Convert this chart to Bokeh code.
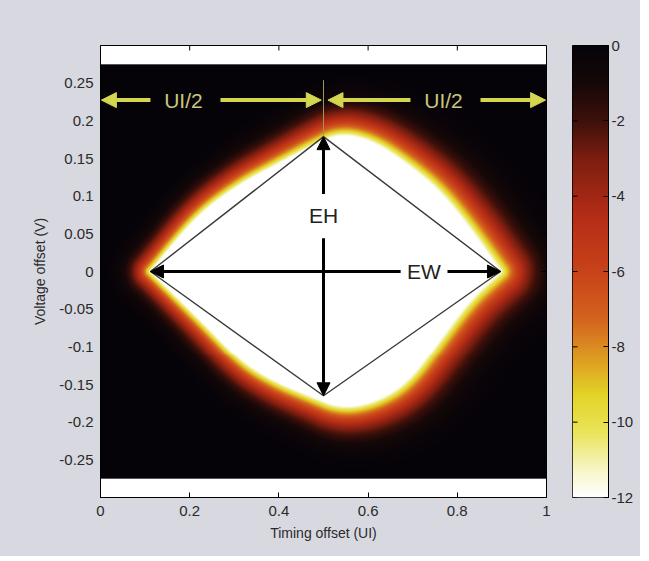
import numpy as np
from bokeh.plotting import figure
from bokeh.layouts import row
from bokeh.models import (LinearColorMapper, FixedTicker, Range1d, Arrow, NormalHead, Label)
from bokeh.embed import file_html
from bokeh.resources import INLINE

# ---------------- data ----------------
x_ticks = [0, 0.2, 0.4, 0.6, 0.8, 1]
x_tick_labels = ["0", "0.2", "0.4", "0.6", "0.8", "1"]
y_ticks = [-0.25, -0.2, -0.15, -0.1, -0.05, 0, 0.05, 0.1, 0.15, 0.2, 0.25]
y_tick_labels = ["-0.25", "-0.2", "-0.15", "-0.1", "-0.05", "0",
                 "0.05", "0.1", "0.15", "0.2", "0.25"]
cbar_ticks = [0, -2, -4, -6, -8, -10, -12]
cbar_tick_labels = ["0", "-2", "-4", "-6", "-8", "-10", "-12"]

# eye contour (log10 BER = -12 boundary)
eye_x = [0.112, 0.217, 0.314, 0.388, 0.471, 0.538, 0.612, 0.688, 0.762, 0.830, 0.897]
eye_upper = [0.000, 0.075, 0.116, 0.139, 0.165, 0.183, 0.172, 0.142, 0.106, 0.056, 0.000]
eye_lower = [0.000, -0.060, -0.119, -0.146, -0.166, -0.182, -0.175, -0.149, -0.090, -0.036, 0.000]

# eye opening markers
ew_left, ew_right = 0.112, 0.897
eh_x, eh_top, eh_bottom = 0.5, 0.179, -0.165
ui_left, ui_mid, ui_right = 0.0, 0.5, 1.0
ui_y = 0.2275

# image extent and colour scale
img_x0, img_x1 = 0.0, 1.0
img_y0, img_y1 = -0.275, 0.275
ber_low, ber_high = -12, 0

# ---------------- build image ----------------
SX, SY = 446.0, 756.0  # px per data unit
nx, ny = 446, 416
gx = np.linspace(img_x0, img_x1, nx)
gy = np.linspace(img_y0, img_y1, ny)
X, Y = np.meshgrid(gx, gy)


def chaikin(xs, ys, n=3):
    pts = np.stack([xs, ys], axis=1)
    for _ in range(n):
        q1 = 0.75 * pts[:-1] + 0.25 * pts[1:]
        q2 = 0.25 * pts[:-1] + 0.75 * pts[1:]
        mid = np.empty((2 * len(q1), 2))
        mid[0::2] = q1
        mid[1::2] = q2
        pts = np.vstack([pts[:1], mid[1:-1], pts[-1:]])
    return pts[:, 0], pts[:, 1]


ux, uy = chaikin(np.array(eye_x) * SX, np.array(eye_upper) * SY)
lx, ly = chaikin(np.array(eye_x) * SX, np.array(eye_lower) * SY)
poly_x = np.concatenate([ux, lx[::-1][1:]])
poly_y = np.concatenate([uy, ly[::-1][1:]])
A = np.stack([poly_x[:-1], poly_y[:-1]], axis=1)
B = np.stack([poly_x[1:], poly_y[1:]], axis=1)
PX = X.ravel() * SX
PY = Y.ravel() * SY
dmin = np.full(PX.shape[0], np.inf)
for a, b in zip(A, B):
    abx, aby = b - a
    L2 = abx * abx + aby * aby
    if L2 == 0:
        continue
    t = np.clip(((PX - a[0]) * abx + (PY - a[1]) * aby) / L2, 0, 1)
    d = np.hypot(PX - (a[0] + t * abx), PY - (a[1] + t * aby))
    dmin = np.minimum(dmin, d)
dmin = dmin.reshape(X.shape)
Xp = X * SX
Yp = Y * SY
inside = (Xp >= ux[0]) & (Xp <= ux[-1]) & (Yp <= np.interp(Xp, ux, uy)) & (Yp >= np.interp(Xp, lx, ly))
W = 58 + 42 * np.clip((X - 0.11) / 0.79, 0, 1)
tt = np.clip(dmin / W, 0, 1)
val = ber_low * (1 - tt) ** 4
val[inside] = ber_low
val = np.clip(val, ber_low, ber_high)

# ---------------- palette ----------------
anchors = [(-12, (255, 255, 255)), (-11.2, (246, 244, 190)), (-10.3, (234, 228, 90)),
           (-9.3, (226, 212, 40)), (-8.4, (222, 160, 34)), (-7.3, (212, 100, 30)),
           (-6, (200, 66, 26)), (-4.5, (180, 44, 22)), (-3, (124, 30, 16)),
           (-2, (62, 16, 10)), (-1, (22, 8, 8)), (0, (6, 3, 8))]
av = np.array([a[0] for a in anchors], dtype=float)
ac = np.array([a[1] for a in anchors], dtype=float)
lv = np.linspace(ber_low, ber_high, 256)
palette = []
for v in lv:
    r = np.interp(v, av, ac[:, 0]); g = np.interp(v, av, ac[:, 1]); b = np.interp(v, av, ac[:, 2])
    palette.append("#%02x%02x%02x" % (int(round(r)), int(round(g)), int(round(b))))
mapper = LinearColorMapper(palette=palette, low=ber_low, high=ber_high)

# ---------------- main figure ----------------
FONT = "Liberation Sans"
BG = "#d8d8e0"
TXT = "#2a2a2a"
p = figure(output_backend="svg", toolbar_location=None,
           frame_width=446, frame_height=452,
           min_border_left=100, min_border_top=45, min_border_bottom=59, min_border_right=8,
           x_range=Range1d(0, 1), y_range=Range1d(-0.3, 0.3))
p.border_fill_color = BG
p.background_fill_color = "white"
p.outline_line_color = "black"
p.grid.visible = False

p.image(image=[val], x=img_x0, y=img_y0, dw=img_x1 - img_x0, dh=img_y1 - img_y0,
        color_mapper=mapper)

for ax in (p.xaxis[0], p.yaxis[0]):
    ax.major_tick_in = 5
    ax.major_tick_out = 0
    ax.minor_tick_line_color = None
    ax.major_label_text_font = FONT
    ax.major_label_text_font_size = "15px"
    ax.major_label_text_color = TXT
    ax.axis_label_text_font = FONT
    ax.axis_label_text_font_size = "14px"
    ax.axis_label_text_font_style = "normal"
    ax.axis_label_text_color = TXT
    ax.axis_line_color = "black"
p.xaxis[0].ticker = FixedTicker(ticks=x_ticks)
p.xaxis[0].major_label_overrides = dict(zip(x_ticks, x_tick_labels))
p.yaxis[0].ticker = FixedTicker(ticks=y_ticks)
p.yaxis[0].major_label_overrides = dict(zip(y_ticks, y_tick_labels))
p.xaxis[0].axis_label = "Timing offset (UI)"
p.yaxis[0].axis_label = "Voltage offset (V)"
p.xaxis[0].major_label_standoff = 8
p.yaxis[0].major_label_standoff = 7
p.xaxis[0].axis_label_standoff = 6
p.yaxis[0].axis_label_standoff = 8

# box ticks on top and right edges
tick_dy = 5 / SY
tick_dx = 5 / SX
p.segment(x0=x_ticks, y0=[0.3] * len(x_ticks), x1=x_ticks, y1=[0.3 - tick_dy] * len(x_ticks),
          line_color="black", line_width=1)
p.segment(x0=[1] * len(y_ticks), y0=y_ticks, x1=[1 - tick_dx] * len(y_ticks), y1=y_ticks,
          line_color="black", line_width=1)

# diamond
p.line([ew_left, eh_x, ew_right, eh_x, ew_left], [0, eh_top, 0, eh_bottom, 0],
       line_color="#3a3a3a", line_width=1.4)

def arrow(x0, y0, x1, y1, color, lw, size):
    p.add_layout(Arrow(x_start=x0, y_start=y0, x_end=x1, y_end=y1,
                       line_color=color, line_width=lw,
                       end=NormalHead(size=size, fill_color=color, line_color=color)))

# EW
arrow(0.673, 0, ew_left, 0, "black", 3, 13)
arrow(0.778, 0, ew_right, 0, "black", 3, 13)
p.add_layout(Label(x=0.725, y=0, text="EW", text_align="center", text_baseline="middle",
                   text_font=FONT, text_font_size="21px", text_color="#222222"))
# EH
arrow(eh_x, 0.103, eh_x, eh_top, "black", 3, 13)
arrow(eh_x, 0.044, eh_x, eh_bottom, "black", 3, 13)
p.add_layout(Label(x=eh_x, y=0.074, text="EH", text_align="center", text_baseline="middle",
                   text_font=FONT, text_font_size="21px", text_color="#222222"))

# UI/2 markers
YEL = "#d3d64e"
p.line([ui_mid, ui_mid], [0.254, eh_top], line_color="#9a9a50", line_width=1)
arrow(0.112, ui_y, ui_left + 0.002, ui_y, YEL, 4, 15)
arrow(0.269, ui_y, ui_mid - 0.005, ui_y, YEL, 4, 15)
arrow(0.695, ui_y, ui_mid + 0.01, ui_y, YEL, 4, 15)
arrow(0.852, ui_y, ui_right - 0.002, ui_y, YEL, 4, 15)
for xc in (0.186, 0.769):
    p.add_layout(Label(x=xc, y=ui_y, text="UI/2", text_align="center", text_baseline="middle",
                       text_font=FONT, text_font_size="21px", text_color="#c6c67e"))

# ---------------- colour bar figure ----------------
cb_grad = np.linspace(ber_low, ber_high, 256).reshape(-1, 1)
q = figure(output_backend="svg", toolbar_location=None,
           frame_width=36, frame_height=452,
           min_border_left=18, min_border_right=32, min_border_top=45, min_border_bottom=59,
           x_range=Range1d(0, 1), y_range=Range1d(ber_low, ber_high),
           x_axis_location=None, y_axis_location="right")
q.border_fill_color = BG
q.outline_line_color = "black"
q.grid.visible = False
q.image(image=[cb_grad], x=0, y=ber_low, dw=1, dh=ber_high - ber_low, color_mapper=mapper)
ya = q.yaxis[0]
ya.ticker = FixedTicker(ticks=cbar_ticks)
ya.major_label_overrides = dict(zip(cbar_ticks, cbar_tick_labels))
ya.major_tick_in = 5
ya.major_tick_out = 0
ya.minor_tick_line_color = None
ya.major_label_standoff = 3
ya.major_label_text_font = FONT
ya.major_label_text_font_size = "15px"
ya.major_label_text_color = TXT
ya.axis_line_color = "black"
q.segment(x0=[0] * len(cbar_ticks), y0=cbar_ticks, x1=[5 / 36] * len(cbar_ticks), y1=cbar_ticks,
          line_color="black", line_width=1)

layout = row(p, q, spacing=0, width=640, height=556,
             styles={"background-color": BG, "width": "640px", "height": "556px"})
open("out.html", "w").write(file_html(layout, INLINE))
